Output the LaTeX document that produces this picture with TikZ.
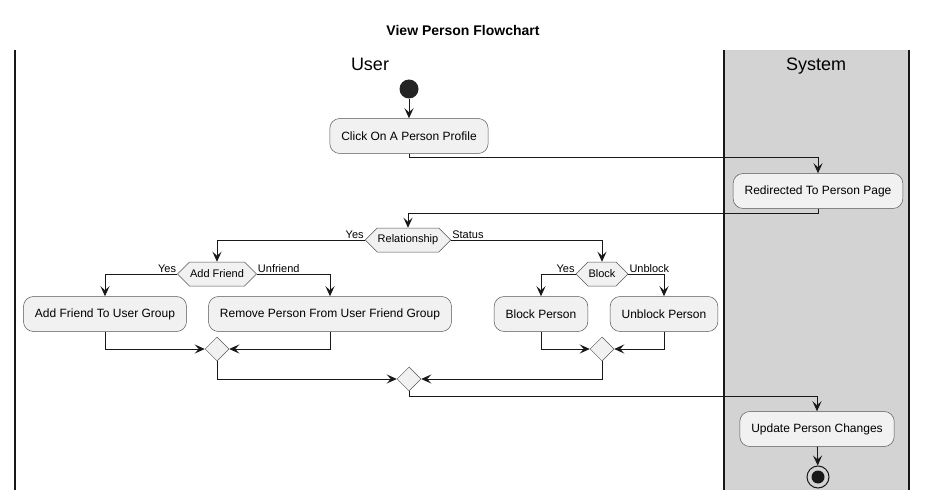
\documentclass[tikz,border=0pt]{standalone}
\usepackage{fontspec}
\setmainfont{Liberation Sans}
\usetikzlibrary{arrows.meta,shapes.geometric,shapes.symbols}
\definecolor{boxfill}{HTML}{F1F1F1}
\definecolor{lanegray}{HTML}{D3D3D3}
\definecolor{ink}{HTML}{181818}
\definecolor{boxline}{HTML}{555555}
\begin{document}
\begin{tikzpicture}[x=1pt,y=-1pt,
  act/.style={draw=boxline, fill=boxfill, rounded corners=10pt, minimum height=35pt, inner xsep=11.5pt, font=\fontsize{12}{14}\selectfont, line width=0.5pt},
  hex/.style={signal, signal to=west and east, draw=boxline, fill=boxfill, minimum height=24pt, inner xsep=0.5pt, font=\fontsize{11}{13}\selectfont, line width=0.5pt},
  merge/.style={diamond, draw=boxline, fill=boxfill, minimum size=24pt, inner sep=0pt, line width=0.5pt},
  lbl/.style={font=\fontsize{11}{13}\selectfont, inner sep=1pt},
  arr/.style={draw=ink, line width=0.8pt, -{Stealth[length=10pt,width=9pt,inset=4pt]}},
  lane/.style={draw=ink, line width=1.5pt},
  hdr/.style={font=\fontsize{18}{20}\selectfont, anchor=base}
]
\useasboundingbox (0,0) rectangle (927,500);
\fill[white] (0,0) rectangle (927,500);
\fill[lanegray] (724,50) rectangle (909,490);
\draw[lane] (15,50) -- (15,490);
\draw[lane] (724,50) -- (724,490);
\draw[lane] (909,50) -- (909,490);
\node[font=\bfseries\fontsize{14}{16}\selectfont] (title) at (463,30) {View Person Flowchart};
\node[hdr] (huser) at (370,71) {User};
\node[hdr] (hsys) at (816,71) {System};

\node[circle, fill=ink!95, minimum size=19pt, inner sep=0pt] (start) at (409,89) {};
\node[act] (click) at (409,136) {Click On A Person Profile};
\node[act] (redir) at (818,191) {Redirected To Person Page};
\node[hex] (rel) at (408,240) {Relationship};
\node[hex] (add) at (217,274) {Add Friend};
\node[hex] (blk) at (602,274) {Block};
\node[act] (addg) at (105,314) {Add Friend To User Group};
\node[act] (rem) at (330,314) {Remove Person From User Friend Group};
\node[act] (bp) at (541,314) {Block Person};
\node[act] (ubp) at (664,314) {Unblock Person};
\node[merge] (m1) at (217,349) {};
\node[merge] (m2) at (602,349) {};
\node[merge] (m3) at (409,379) {};
\node[act] (upd) at (817,429) {Update Person Changes};
\node[circle, draw=ink, line width=1pt, minimum size=22pt, inner sep=0pt] (end) at (818,477) {};
\fill[ink] (end.center) circle (6.5);

\draw[arr] (start) -- (click);
\draw[arr] (click.south) -- ++(0,4) -| (redir.north);
\draw[arr] (redir.south) -- ++(0,5) -| (rel.north);
\draw[arr] (rel.west) -| (add.north);
\draw[arr] (rel.east) -| (blk.north);
\draw[arr] (add.west) -| (addg.north);
\draw[arr] (add.east) -| (rem.north);
\draw[arr] (blk.west) -| (bp.north);
\draw[arr] (blk.east) -| (ubp.north);
\draw[arr] (addg.south) |- (m1.west);
\draw[arr] (rem.south) |- (m1.east);
\draw[arr] (bp.south) |- (m2.west);
\draw[arr] (ubp.south) |- (m2.east);
\draw[arr] (m1.south) |- (m3.west);
\draw[arr] (m2.south) |- (m3.east);
\draw[arr] (m3.south) -- ++(0,5) -| (upd.north);
\draw[arr] (upd) -- (end);

\node[lbl, anchor=south east] (lyes1) at (rel.west) {Yes};
\node[lbl, anchor=south west] (lstat) at (rel.east) {Status};
\node[lbl, anchor=south east] (lyes2) at (add.west) {Yes};
\node[lbl, anchor=south west] (lunf) at (add.east) {Unfriend};
\node[lbl, anchor=south east] (lyes3) at (blk.west) {Yes};
\node[lbl, anchor=south west] (lunb) at (blk.east) {Unblock};
\end{tikzpicture}
\end{document}
